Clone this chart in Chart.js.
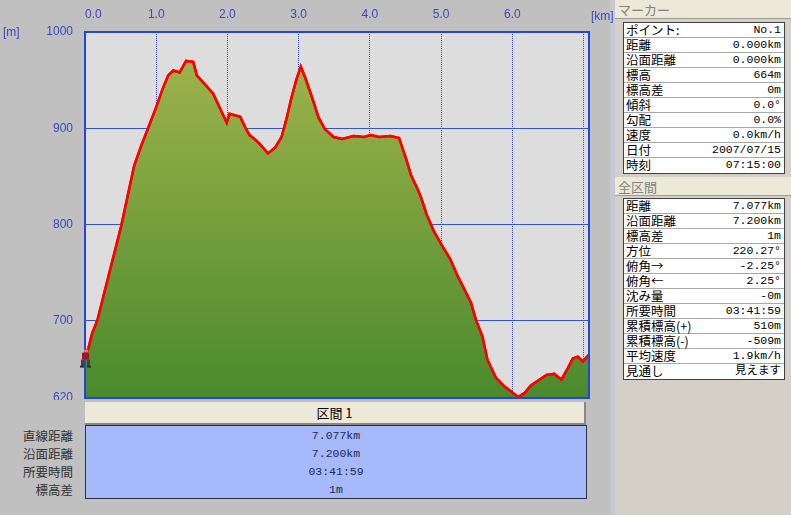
<!DOCTYPE html>
<html>
<head>
<meta charset="utf-8">
<script src="https://cdn.jsdelivr.net/npm/chart.js@4.4.0/dist/chart.umd.min.js"></script>
<style>
  body { margin: 0; width: 791px; height: 515px; background: #c0c0c0; position: relative; overflow: hidden;
         font-family: "Noto Sans CJK JP", sans-serif; }
  #wrap { position: absolute; left: 0; top: 0; width: 615px; height: 400px; }
  .unit { position: absolute; color: #3848c0; font: 12px "Liberation Sans", sans-serif; z-index: 5; }
  #secHead { position: absolute; left: 85px; top: 402px; width: 499px; height: 21px; background: #ece9d8;
             border-right: 2px solid #8c887c; border-bottom: 2px solid #8c887c; text-align: center;
             font-size: 13px; line-height: 21px; color: #000; }
  #secBody { position: absolute; left: 85px; top: 425px; width: 500px; height: 72px; background: #a5b9fb;
             border: 1px solid #283048; }
  .secVal { position: absolute; left: 0; width: 500px; text-align: center; color: #202850;
            font: 11.5px "Liberation Mono", monospace; line-height: 18px; }
  .secLab { position: absolute; right: 718px; color: #303030; font-size: 12.5px; line-height: 18px; text-align: right; }
  #panel { position: absolute; left: 615px; top: 0; width: 176px; height: 515px; background: #d4d0c8; }
  #strip { position: absolute; left: 610px; top: 0; width: 5px; height: 515px; background: #c6c9d4; }
  .phead { position: absolute; left: 0; width: 176px; height: 19px; background: #ece9d8; border-bottom: 1px solid #a09c90;
           color: #808080; font-size: 13px; line-height: 19px; padding-left: 3px; box-sizing: border-box; }
  .ptable { position: absolute; left: 8px; width: 162px; background: #fff; border: 1px solid #404040; box-sizing: border-box; }
  .prow { height: 15px; border-bottom: 1px solid #a8a8a8; box-sizing: border-box; position: relative; }
  .prow:last-child { border-bottom: none; }
  .prow .k { position: absolute; left: 2px; top: 0; font-size: 12.5px; line-height: 14px; color: #000; }
  .prow .v { position: absolute; right: 3px; top: 0; font: 11.5px "Liberation Mono", "Noto Sans CJK JP", monospace; line-height: 14px; color: #000; }
</style>
</head>
<body>
<div id="wrap"><canvas id="profile" width="615" height="400"></canvas></div>
<div class="unit" style="left:3px;top:25px;">[m]</div>

<div id="secHead">区間 1</div>
<div id="secBody"></div>
<div id="secLabels"></div>

<div id="strip"></div>
<div id="panel">
  <div class="phead" style="top:0;">マーカー</div>
  <div class="ptable" id="markerTable" style="top:22px;"></div>
  <div class="phead" style="top:177px;">全区間</div>
  <div class="ptable" id="totalTable" style="top:198px;"></div>
</div>
<div class="unit" style="left:591px;top:9px;">[km]</div>

<script>
// elevation profile
const distKm = [0.00, 0.05, 0.10, 0.175, 0.27, 0.39, 0.51, 0.62, 0.69, 0.79, 0.88, 1.00, 1.09, 1.17, 1.24,
  1.33, 1.42, 1.52, 1.57, 1.68, 1.80, 1.90, 1.99, 2.03, 2.18, 2.25, 2.31, 2.38, 2.45, 2.57, 2.67, 2.76,
  2.83, 2.90, 2.97, 3.03, 3.09, 3.18, 3.28, 3.37, 3.49, 3.61, 3.77, 3.92, 4.01, 4.13, 4.29, 4.41, 4.51,
  4.58, 4.67, 4.72, 4.80, 4.90, 5.00, 5.13, 5.23, 5.32, 5.42, 5.49, 5.58, 5.65, 5.77, 5.89, 5.98, 6.08,
  6.17, 6.26, 6.38, 6.48, 6.59, 6.69, 6.78, 6.85, 6.92, 6.99, 7.077];
const elevM = [664, 672, 687, 701, 729, 764, 799, 837, 861, 882, 899, 922, 941, 955, 960,
  958, 970, 969, 955, 946, 936, 920, 906, 915, 912, 901, 893, 889, 884, 874, 880, 891,
  910, 932, 951, 964, 953, 934, 911, 899, 891, 889, 892, 891, 893, 891, 892, 890, 868,
  851, 837, 828, 810, 793, 780, 764, 747, 734, 719, 701, 684, 660, 641, 632, 627, 621,
  625, 633, 639, 644, 645, 639, 651, 661, 663, 658, 665];

const xTickValues = [0, 1, 2, 3, 4, 5, 6, 7];
const yTickValues = [620, 700, 800, 900, 1000];
const xMaxKm = 7.077;

const sectionLabels = ['直線距離', '沿面距離', '所要時間', '標高差'];
const sectionValues = ['7.077km', '7.200km', '03:41:59', '1m'];

const markerLabels = ['ポイント:', '距離', '沿面距離', '標高', '標高差', '傾斜', '勾配', '速度', '日付', '時刻'];
const markerValues = ['No.1', '0.000km', '0.000km', '664m', '0m', '0.0°', '0.0%', '0.0km/h', '2007/07/15', '07:15:00'];
const totalLabels = ['距離', '沿面距離', '標高差', '方位', '俯角→', '俯角←', '沈み量', '所要時間',
  '累積標高(+)', '累積標高(-)', '平均速度', '見通し'];
const totalValues = ['7.077km', '7.200km', '1m', '220.27°', '-2.25°', '2.25°', '-0m', '03:41:59',
  '510m', '-509m', '1.9km/h', '見えます'];

// tables
function fillTable(id, keys, vals) {
  const el = document.getElementById(id);
  el.innerHTML = keys.map((k, i) =>
    '<div class="prow"><span class="k">' + k + '</span><span class="v">' + vals[i] + '</span></div>').join('');
}
fillTable('markerTable', markerLabels, markerValues);
fillTable('totalTable', totalLabels, totalValues);

document.getElementById('secBody').innerHTML = sectionValues.map((v, i) =>
  '<div class="secVal" style="top:' + (1 + i * 18) + 'px">' + v + '</div>').join('');
document.getElementById('secLabels').innerHTML = sectionLabels.map((l, i) =>
  '<div class="secLab" style="top:' + (427 + i * 18) + 'px">' + l + '</div>').join('');

// chart
const plotBack = {
  id: 'plotBack',
  beforeDraw(chart) {
    const { ctx, chartArea: a } = chart;
    ctx.save();
    ctx.fillStyle = '#dddddd';
    ctx.fillRect(a.left, a.top, a.right - a.left, a.bottom - a.top);
    ctx.restore();
  },
  afterDraw(chart) {
    const { ctx, chartArea: a } = chart;
    // red line again, over the grid
    const meta = chart.getDatasetMeta(0);
    ctx.save();
    ctx.beginPath();
    ctx.rect(a.left, a.top - 2, a.right - a.left, a.bottom - a.top + 4);
    ctx.clip();
    meta.dataset.draw(ctx, a);
    ctx.restore();
    // frame
    ctx.save();
    ctx.strokeStyle = '#2444e0';
    ctx.lineWidth = 2;
    ctx.strokeRect(a.left, a.top, a.right - a.left, a.bottom - a.top);
    ctx.restore();
    // little walker at the marker point
    const p = meta.data[0];
    ctx.save();
    ctx.fillStyle = '#e08030';
    ctx.fillRect(p.x - 1, p.y - 6, 4, 3);
    ctx.fillStyle = '#a01828';
    ctx.fillRect(p.x - 3, p.y - 3, 7, 7);
    ctx.fillStyle = '#504030';
    ctx.fillRect(p.x - 4, p.y + 4, 3, 7);
    ctx.fillRect(p.x + 2, p.y + 4, 3, 7);
    ctx.fillStyle = '#303030';
    ctx.fillRect(p.x - 5, p.y + 10, 4, 2);
    ctx.fillRect(p.x + 2, p.y + 10, 4, 2);
    ctx.restore();
  }
};

new Chart(document.getElementById('profile'), {
  type: 'line',
  data: {
    datasets: [{
      data: distKm.map((d, i) => ({ x: d, y: elevM[i] })),
      borderColor: '#ff0000',
      borderWidth: 2.5,
      pointRadius: 0,
      tension: 0,
      fill: 'start',
      backgroundColor: ctx => {
        const a = ctx.chart.chartArea;
        if (!a) return '#7aa23c';
        const g = ctx.chart.ctx.createLinearGradient(0, a.top, 0, a.bottom);
        g.addColorStop(0, '#a4b64e');
        g.addColorStop(1, '#4a8a2c');
        return g;
      }
    }]
  },
  options: {
    responsive: false,
    animation: false,
    devicePixelRatio: 1,
    layout: { padding: { left: 0, top: 0, right: 26, bottom: 2 } },
    plugins: { legend: { display: false }, tooltip: { enabled: false } },
    scales: {
      x: {
        type: 'linear',
        position: 'top',
        min: 0,
        max: xMaxKm,
        z: 1,
        afterBuildTicks: s => { s.ticks = xTickValues.map(v => ({ value: v })); },
        afterFit: s => { s.height = 32; s.paddingLeft = 0; s.paddingRight = 0; },
        ticks: {
          align: 'inner',
          padding: 10,
          color: '#3848c0',
          font: { family: 'Liberation Sans', size: 12 },
          callback: v => (v < 7 ? v.toFixed(1) : '')
        },
        grid: { color: '#3048c8', lineWidth: 1, drawTicks: false },
        border: { display: false, dash: [1, 1] }
      },
      y: {
        type: 'linear',
        min: 620,
        max: 1000,
        z: 1,
        afterBuildTicks: s => { s.ticks = yTickValues.map(v => ({ value: v })); },
        afterFit: s => { s.width = 85; s.paddingTop = 0; s.paddingBottom = 0; },
        ticks: {
          padding: 12,
          color: '#3848c0',
          font: { family: 'Liberation Sans', size: 12 },
          callback: v => String(v)
        },
        grid: { color: '#3454d4', lineWidth: 1, drawTicks: false },
        border: { display: false }
      }
    }
  },
  plugins: [plotBack]
});
</script>
</body>
</html>
